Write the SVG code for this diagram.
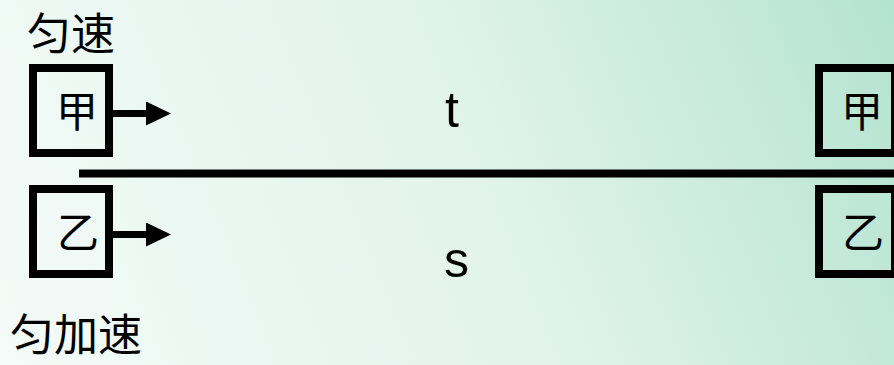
<svg xmlns="http://www.w3.org/2000/svg" width="894" height="365" viewBox="0 0 894 365">
<defs>
<linearGradient id="bg" gradientUnits="userSpaceOnUse" x1="0" y1="365" x2="894" y2="0">
<stop offset="0" stop-color="#f4fbf8"/>
<stop offset="0.55" stop-color="#e0f3eb"/>
<stop offset="1" stop-color="#b4e3d0"/>
</linearGradient>
<marker id="ah" markerUnits="userSpaceOnUse" markerWidth="26" markerHeight="24" refX="0" refY="12" orient="auto">
<path d="M0,0 L25,12 L0,24 Z" fill="#000"/>
</marker>
<style>
.box{fill:none;stroke:#000;stroke-width:8}
.cjk{font-family:"Noto Sans CJK SC","Noto Sans CJK JP",sans-serif;fill:#000}
.lat{font-family:"Liberation Sans",Arial,sans-serif;fill:#000;font-size:50px}
.ln{stroke:#000;fill:none}
</style>
</defs>
<rect x="0" y="0" width="894" height="365" fill="url(#bg)"/>
<text class="cjk" x="27" y="50" font-size="44">匀速</text>
<text class="cjk" x="10" y="351" font-size="44">匀加速</text>
<g id="connectors">
<line class="ln" x1="79" y1="173.5" x2="894" y2="173.5" stroke-width="8"/>
<line class="ln" x1="113" y1="113.5" x2="146" y2="113.5" stroke-width="7" marker-end="url(#ah)"/>
<line class="ln" x1="113" y1="234.5" x2="146" y2="234.5" stroke-width="7" marker-end="url(#ah)"/>
</g>
<g id="jia-left">
<rect class="box" x="33" y="68" width="76" height="85"/>
<text class="cjk" x="77" y="127" font-size="42" text-anchor="middle">甲</text>
</g>
<g id="yi-left">
<rect class="box" x="33" y="189" width="76" height="85"/>
<text class="cjk" x="78" y="248" font-size="42" text-anchor="middle">乙</text>
</g>
<g id="jia-right">
<rect class="box" x="819" y="68" width="76" height="85"/>
<text class="cjk" x="862" y="127" font-size="42" text-anchor="middle">甲</text>
</g>
<g id="yi-right">
<rect class="box" x="819" y="189" width="76" height="85"/>
<text class="cjk" x="863" y="248" font-size="42" text-anchor="middle">乙</text>
</g>
<text class="lat" x="445" y="127">t</text>
<text class="lat" x="444" y="277">s</text>
</svg>
